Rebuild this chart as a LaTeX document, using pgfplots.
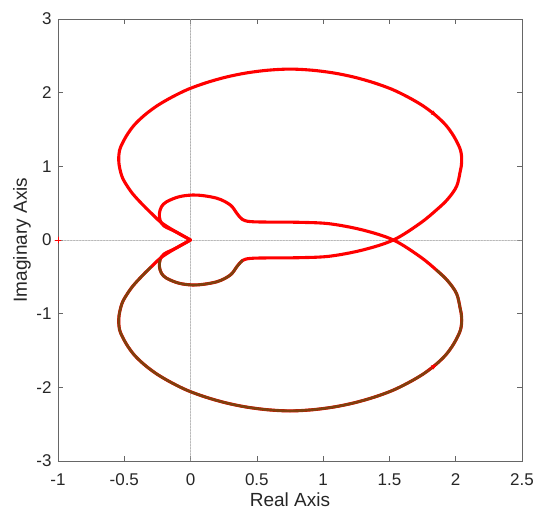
\documentclass[border=0pt]{standalone}
\usepackage{pgfplots}
\pgfplotsset{compat=1.18}
\usepackage{fontspec}
\setmainfont{Liberation Sans}
\usetikzlibrary{arrows.meta}
\definecolor{nqred}{rgb}{1,0,0}
\definecolor{nqbrown}{rgb}{0.50,0.25,0.05}
\definecolor{axgray}{gray}{0.40}
\definecolor{txt}{gray}{0.15}
\definecolor{zgray}{gray}{0.62}
\begin{document}
\begin{tikzpicture}
\path[use as bounding box] (-58pt,-59pt) rectangle (492pt,461pt);
\begin{axis}[
  at={(0pt,0pt)}, anchor=south west,
  scale only axis, width=464pt, height=442pt,
  xmin=-1, xmax=2.5, ymin=-3, ymax=3,
  xtick={-1,-0.5,0,0.5,1,1.5,2,2.5},
  xticklabels={-1,-0.5,0,0.5,1,1.5,2,2.5},
  ytick={-3,-2,-1,0,1,2,3},
  yticklabels={-3,-2,-1,0,1,2,3},
  tick align=inside, major tick length=5pt,
  axis line style={axgray, line width=0.6pt},
  tick style={axgray, line width=0.6pt},
  ticklabel style={font=\fontsize{17}{19}\selectfont, text=txt},
  xticklabel style={anchor=center, yshift=-19pt},
  yticklabel style={anchor=east, xshift=-3pt},
  xlabel={Real Axis}, ylabel={Imaginary Axis},
  label style={font=\fontsize{19}{21}\selectfont, text=txt},
  xlabel style={at={(axis description cs:0.5,-0.0882)}, anchor=center},
  ylabel style={at={(axis description cs:-0.0776,0.5)}, anchor=center, rotate=0},
  every axis plot/.append style={line cap=round, line join=round},
]
\addplot[zgray, densely dotted, line width=0.5pt] coordinates {(0,-3) (0,3)};
\addplot[zgray, densely dotted, line width=0.5pt] coordinates {(-1,0) (2.5,0)};

% positive-frequency branch
\addplot[nqred, line width=3.1pt, smooth, tension=0.55] coordinates {
(0,0) (-0.11,0.11) (-0.22,0.235) (-0.30,0.37) (-0.367,0.49) (-0.44,0.635)
(-0.496,0.784) (-0.517,0.86) (-0.53,0.94) (-0.539,1.02) (-0.542,1.1) (-0.539,1.18) (-0.528,1.26) (-0.484,1.413) (-0.425,1.56)
(-0.345,1.698) (-0.25,1.825) (-0.139,1.941) (-0.02,2.045) (0.118,2.135) (0.265,2.21)
(0.419,2.267) (0.585,2.305) (0.75,2.32) (0.915,2.305) (1.081,2.267) (1.235,2.21)
(1.382,2.135) (1.52,2.045) (1.639,1.941) (1.75,1.825) (1.845,1.698) (1.925,1.56)
(1.984,1.413) (2.028,1.26) (2.041,1.18) (2.045,1.10) (2.043,1.02) (2.035,0.94) (2.007,0.73) (1.94,0.555)
(1.856,0.41) (1.73,0.225) (1.53,0)
(1.30,-0.135) (1.05,-0.22) (0.825,-0.24) (0.6,-0.243) (0.45,-0.25) (0.39,-0.28)
(0.35,-0.36) (0.30,-0.475) (0.20,-0.566) (0.046,-0.61) (-0.08,-0.59) (-0.18,-0.52)
(-0.22,-0.45) (-0.235,-0.36) (-0.23,-0.27) (-0.2,-0.19) (-0.11,-0.11) (0,0)};
% negative-frequency branch
\addplot[nqred, line width=3.1pt, smooth, tension=0.55] coordinates {
(0,0) (-0.11,-0.11) (-0.22,-0.235) (-0.30,-0.37) (-0.367,-0.49) (-0.44,-0.635)
(-0.496,-0.784) (-0.517,-0.86) (-0.53,-0.94) (-0.539,-1.02) (-0.542,-1.1) (-0.539,-1.18) (-0.528,-1.26) (-0.484,-1.413) (-0.425,-1.56)
(-0.345,-1.698) (-0.25,-1.825) (-0.139,-1.941) (-0.02,-2.045) (0.118,-2.135) (0.265,-2.21)
(0.419,-2.267) (0.585,-2.305) (0.75,-2.32) (0.915,-2.305) (1.081,-2.267) (1.235,-2.21)
(1.382,-2.135) (1.52,-2.045) (1.639,-1.941) (1.75,-1.825) (1.845,-1.698) (1.925,-1.56)
(1.984,-1.413) (2.028,-1.26) (2.041,-1.18) (2.045,-1.10) (2.043,-1.02) (2.035,-0.94) (2.007,-0.73) (1.94,-0.555)
(1.856,-0.41) (1.73,-0.225) (1.53,0)
(1.30,0.135) (1.05,0.22) (0.825,0.24) (0.6,0.243) (0.45,0.25) (0.39,0.28)
(0.35,0.36) (0.30,0.475) (0.20,0.566) (0.046,0.61) (-0.08,0.59) (-0.18,0.52)
(-0.22,0.45) (-0.235,0.36) (-0.23,0.27) (-0.2,0.19) (-0.11,0.11) (0,0)};

% brown overlays
\addplot[nqbrown, line width=2.7pt, smooth, tension=0.55] coordinates {
(-0.30,-0.37) (-0.367,-0.49) (-0.44,-0.635)
(-0.496,-0.784) (-0.517,-0.86) (-0.53,-0.94) (-0.539,-1.02) (-0.542,-1.1) (-0.539,-1.18) (-0.528,-1.26) (-0.484,-1.413) (-0.425,-1.56)
(-0.345,-1.698) (-0.25,-1.825) (-0.139,-1.941) (-0.02,-2.045) (0.118,-2.135) (0.265,-2.21)
(0.419,-2.267) (0.585,-2.305) (0.75,-2.32) (0.915,-2.305) (1.081,-2.267) (1.235,-2.21)
(1.382,-2.135) (1.52,-2.045) (1.639,-1.941) (1.75,-1.825) (1.845,-1.698) (1.925,-1.56)
(1.984,-1.413) (2.028,-1.26) (2.041,-1.18) (2.045,-1.10) (2.043,-1.02) (2.035,-0.94) (2.007,-0.73) (1.94,-0.555)
(1.856,-0.41)};
\addplot[nqbrown, line width=2.7pt, smooth, tension=0.55] coordinates {
(0.39,-0.28) (0.35,-0.36) (0.30,-0.475) (0.20,-0.566) (0.046,-0.61) (-0.08,-0.59)
(-0.18,-0.52) (-0.22,-0.45) (-0.235,-0.36) (-0.23,-0.27)};

% direction arrows
\addplot[nqred, line width=0.8pt, -{Latex[length=6pt,width=5pt]}] coordinates {(1.79,1.77) (1.86,1.685)};
\addplot[nqred, line width=0.8pt, -{Latex[length=6pt,width=5pt]}] coordinates {(1.79,-1.77) (1.86,-1.685)};

% critical point
\addplot[nqred, only marks, mark=+, mark size=3pt, mark options={line width=0.6pt}] coordinates {(-1,0)};
\end{axis}
\end{tikzpicture}
\end{document}
